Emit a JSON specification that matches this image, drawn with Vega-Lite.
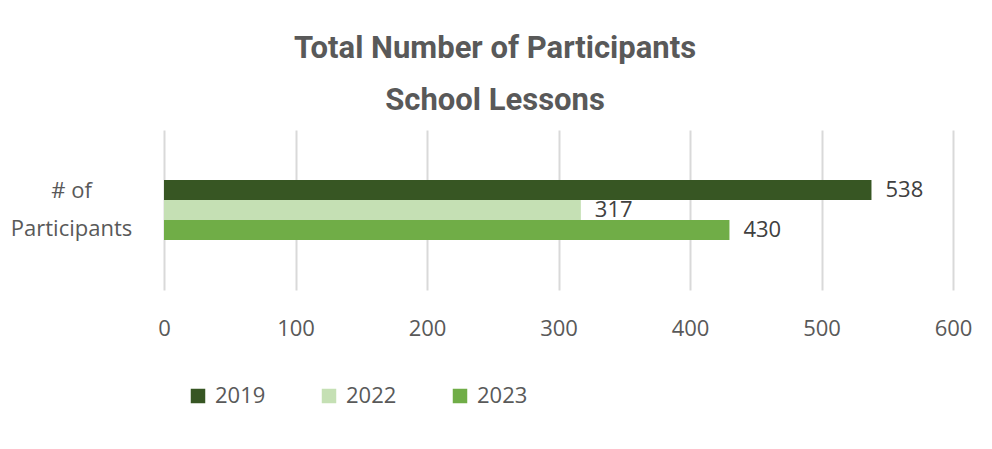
{
  "$schema": "https://vega.github.io/schema/vega-lite/v6.json",
  "autosize": "none",
  "width": 789,
  "height": 160,
  "padding": {"left": 164, "top": 130, "right": 39, "bottom": 159},
  "background": "white",
  "title": {
    "text": ["Total Number of Participants", "School Lessons"],
    "font": "Roboto",
    "fontSize": 31,
    "fontWeight": "bold",
    "color": "#595959",
    "anchor": "middle",
    "frame": "bounds",
    "lineHeight": 52,
    "offset": 13,
    "dx": 4
  },
  "data": {
    "values": [
      {"category": "# of Participants", "year": "2019", "value": 538},
      {"category": "# of Participants", "year": "2022", "value": 317},
      {"category": "# of Participants", "year": "2023", "value": 430}
    ]
  },
  "encoding": {
    "y": {
      "field": "category",
      "type": "nominal",
      "title": null,
      "scale": {"paddingInner": 0, "paddingOuter": 0.833},
      "axis": {
        "labelExpr": "['# of', 'Participants']",
        "labelFont": "Open Sans",
        "labelFontSize": 22,
        "labelColor": "#595959",
        "labelPadding": 93,
        "labelLineHeight": 38,
        "labelOffset": -19,
        "labelLimit": 200,
        "ticks": false,
        "domain": false,
        "labelAlign": "center"
      }
    },
    "yOffset": {"field": "year", "type": "nominal", "scale": {"paddingInner": 0}},
    "x": {
      "field": "value",
      "type": "quantitative",
      "title": null,
      "scale": {"domain": [0, 600]},
      "axis": {
        "values": [0, 100, 200, 300, 400, 500, 600],
        "labelFont": "Open Sans",
        "labelFontSize": 22,
        "labelColor": "#595959",
        "labelPadding": 28,
        "labelFlush": false,
        "ticks": false,
        "domain": false,
        "grid": true,
        "gridColor": "#d9d9d9",
        "gridWidth": 2
      }
    }
  },
  "layer": [
    {
      "mark": {"type": "bar"},
      "encoding": {
        "color": {
          "field": "year",
          "type": "nominal",
          "scale": {"domain": ["2019", "2022", "2023"], "range": ["#375623", "#C5E0B4", "#70AD47"]},
          "legend": {
            "title": null,
            "orient": "none",
            "legendX": 23,
            "legendY": 255,
            "direction": "horizontal",
            "symbolType": "square",
            "symbolSize": 210,
            "symbolStrokeWidth": 0,
            "labelFont": "Open Sans",
            "labelFontSize": 22,
            "labelColor": "#595959",
            "columnPadding": 52,
            "labelOffset": 6
          }
        }
      }
    },
    {
      "mark": {"type": "text", "align": "left", "dx": 14, "font": "Open Sans", "fontSize": 22, "color": "#404040"},
      "encoding": {"text": {"field": "value", "type": "quantitative"}}
    }
  ],
  "config": {"view": {"stroke": null}}
}
